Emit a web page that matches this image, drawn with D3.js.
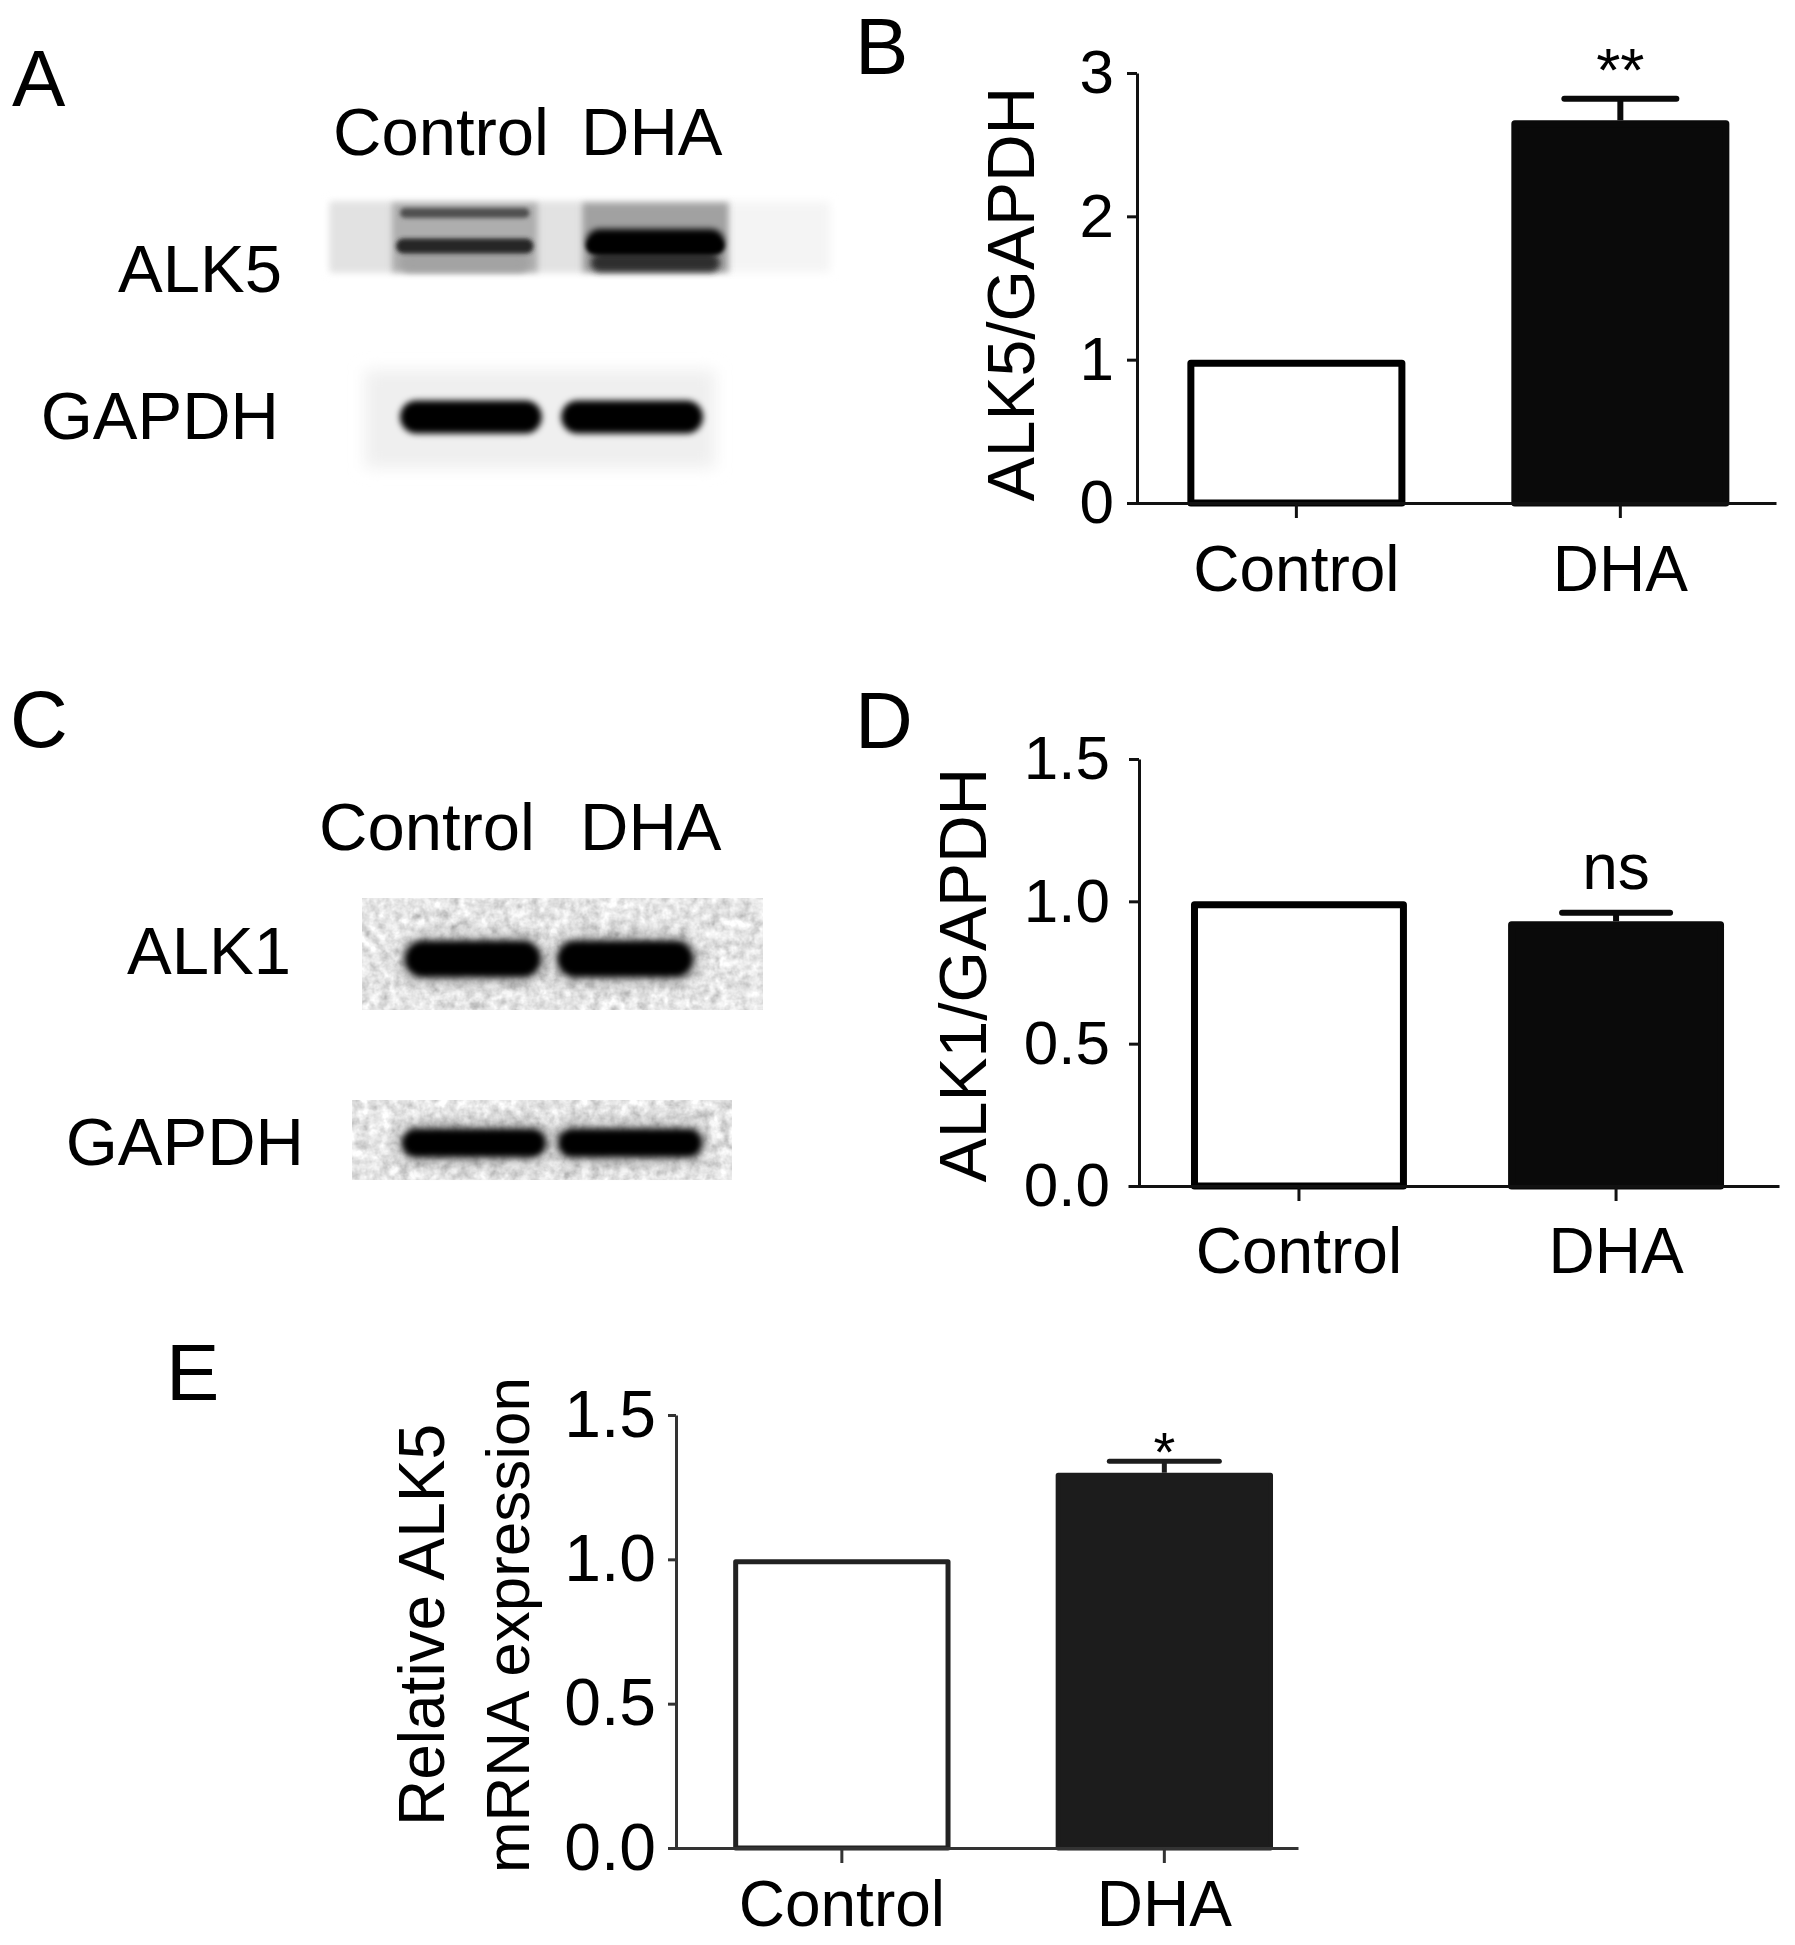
<!DOCTYPE html>
<html>
<head>
<meta charset="utf-8">
<script src="https://cdn.jsdelivr.net/npm/d3@7"></script>
<style>
body { margin: 0; background: #fff; }
text { font-family: "Liberation Sans", Arial, Helvetica, sans-serif; fill: #000; }
</style>
</head>
<body>
<div id="fig"></div>
<script>
var width = 1795;
var height = 1945;

// groups and measured values
var groups = ["Control", "DHA"];
var alk5Ratio = [1.0, 2.67];
var alk5RatioErr = [0, 0.15];
var alk1Ratio = [1.0, 0.93];
var alk1RatioErr = [0, 0.03];
var alk5Mrna = [1.0, 1.30];
var alk5MrnaErr = [0, 0.04];
var sigB = ["", "**"];
var sigD = ["", "ns"];
var sigE = ["", "*"];
var ticksB = [0, 1, 2, 3];
var ticksD = [0, 0.5, 1.0, 1.5];
var ticksE = [0, 0.5, 1.0, 1.5];

// blot band densities per lane (0 = none, 1 = saturated)
var alk5Upper = [0.65, 0];
var alk5Main = [0.85, 1.0];
var alk5Broad = [0, 1.0];
var alk5Smear = [0.25, 0.8];
var alk5LaneBg = [0.2, 0.26];
var gapdhA = [1.0, 1.0];
var alk1Band = [1.0, 1.0];
var gapdhC = [1.0, 1.0];

var svg = d3.select("#fig").append("svg")
    .attr("width", width)
    .attr("height", height);

var defs = svg.append("defs");
[2, 3, 5, 8].forEach(function(s) {
    defs.append("filter").attr("id", "blur" + s)
        .attr("x", "-50%").attr("y", "-150%").attr("width", "200%").attr("height", "400%")
        .append("feGaussianBlur").attr("stdDeviation", s);
});
var nf = defs.append("filter").attr("id", "noise")
    .attr("x", 0).attr("y", 0).attr("width", "100%").attr("height", "100%");
nf.append("feTurbulence").attr("type", "fractalNoise").attr("baseFrequency", 0.1)
    .attr("numOctaves", 3).attr("seed", 5).attr("result", "t");
nf.append("feColorMatrix").attr("in", "t").attr("type", "matrix")
    .attr("values", "0.33 0.33 0.33 0 0 0.33 0.33 0.33 0 0 0.33 0.33 0.33 0 0 0 0 0 0 1")
    .attr("result", "g");
var ct = nf.append("feComponentTransfer").attr("in", "g").attr("result", "c");
["feFuncR", "feFuncG", "feFuncB"].forEach(function(f) {
    ct.append(f).attr("type", "linear").attr("slope", 1.5).attr("intercept", 0.05);
});
nf.append("feComposite").attr("in", "c").attr("in2", "SourceGraphic").attr("operator", "in");

var density = d3.scaleLinear().domain([0, 1]).range(["#d8d8d8", "#050505"]);

// panel letters
var letters = [
    {t: "A", x: 12, y: 106, s: 80},
    {t: "B", x: 855, y: 74, s: 80},
    {t: "C", x: 10, y: 747, s: 80},
    {t: "D", x: 855, y: 748, s: 80},
    {t: "E", x: 166, y: 1400, s: 80}
];
svg.selectAll("text.letter").data(letters).join("text")
    .attr("class", "letter")
    .attr("x", d => d.x).attr("y", d => d.y)
    .attr("font-size", d => d.s)
    .text(d => d.t);

// ---------- western blots ----------
function drawBlot(cfg) {
    var g = svg.append("g");
    var x = d3.scaleBand().domain(groups).range(cfg.lanes).paddingInner(cfg.pad);

    // lane headers
    if (cfg.header) {
        g.selectAll("text.head").data(groups).join("text")
            .attr("class", "head")
            .attr("x", (d, i) => cfg.header.x[i])
            .attr("y", cfg.header.y)
            .attr("font-size", 67)
            .text(d => d);
    }
    // row labels
    g.selectAll("text.lab").data(cfg.labels).join("text")
        .attr("class", "lab")
        .attr("x", d => d.x).attr("y", d => d.y)
        .attr("text-anchor", "end")
        .attr("font-size", 67)
        .text(d => d.t);

    cfg.backs.forEach(function(b) {
        g.append("rect")
            .attr("x", b.x).attr("y", b.y).attr("width", b.w).attr("height", b.h)
            .attr("fill", b.fill)
            .attr("filter", b.filter);
    });

    if (cfg.laneBg) {
        g.selectAll("rect.lanebg").data(cfg.laneBg.values).join("rect")
            .attr("class", "lanebg")
            .attr("x", (d, i) => x(groups[i]))
            .attr("y", cfg.laneBg.y)
            .attr("width", x.bandwidth())
            .attr("height", cfg.laneBg.h)
            .attr("fill", d => density(d))
            .attr("filter", "url(#blur3)");
    }

    cfg.rows.forEach(function(r) {
        var vals = r.values.map((d, i) => ({d: d, g: groups[i]})).filter(v => v.d > 0);
        if (r.halo) {
            g.selectAll(null).data(vals).join("rect")
                .attr("x", v => x(v.g) - 4)
                .attr("y", r.cy - r.h / 2 - 6)
                .attr("width", x.bandwidth() + 8)
                .attr("height", r.h + 12)
                .attr("rx", r.h / 2)
                .attr("fill", "#7a7a7a")
                .attr("opacity", 0.6)
                .attr("filter", "url(#blur8)");
        }
        g.selectAll(null).data(vals).join("rect")
            .attr("x", v => x(v.g) + (r.inset || 0))
            .attr("y", r.cy - r.h / 2)
            .attr("width", x.bandwidth() - 2 * (r.inset || 0))
            .attr("height", r.h)
            .attr("rx", r.h / 2)
            .attr("fill", v => density(v.d))
            .attr("filter", "url(#blur" + r.blur + ")");
    });
}

// A: ALK5 + GAPDH
drawBlot({
    lanes: [392, 728], pad: 0.236,
    header: {x: [333, 581], y: 155},
    labels: [{t: "ALK5", x: 282, y: 292}],
    backs: [
        {x: 330, y: 202, w: 500, h: 70, fill: "#f4f4f4", filter: "url(#blur5)"},
        {x: 330, y: 202, w: 400, h: 70, fill: "#e2e2e2", filter: "url(#blur3)"}
    ],
    laneBg: {values: alk5LaneBg, y: 203, h: 69},
    rows: [
        {values: alk5Upper, cy: 213, h: 10, blur: 2, inset: 8},
        {values: alk5Smear, cy: 263, h: 18, blur: 3, inset: 8},
        {values: alk5Broad, cy: 242, h: 26, blur: 3, inset: 4},
        {values: alk5Main, cy: 246, h: 15, blur: 2, inset: 4}
    ]
});
drawBlot({
    lanes: [400, 703], pad: 0.12,
    labels: [{t: "GAPDH", x: 279, y: 439}],
    backs: [
        {x: 365, y: 370, w: 350, h: 98, fill: "#efefef", filter: "url(#blur8)"}
    ],
    rows: [
        {values: gapdhA, cy: 417, h: 33, blur: 3}
    ]
});

// C: ALK1 + GAPDH
drawBlot({
    lanes: [405, 693], pad: 0.11,
    header: {x: [319, 580], y: 850},
    labels: [{t: "ALK1", x: 291, y: 974}],
    backs: [
        {x: 362, y: 898, w: 401, h: 112, fill: "#ccc", filter: "url(#noise)"}
    ],
    rows: [
        {values: alk1Band, cy: 959, h: 36, blur: 3, halo: true}
    ]
});
drawBlot({
    lanes: [402, 702], pad: 0.08,
    labels: [{t: "GAPDH", x: 304, y: 1165}],
    backs: [
        {x: 352, y: 1100, w: 380, h: 80, fill: "#ccc", filter: "url(#noise)"}
    ],
    rows: [
        {values: gapdhC, cy: 1143, h: 28, blur: 3, halo: true}
    ]
});

// ---------- bar charts ----------
function barChart(cfg) {
    var g = svg.append("g");
    var x = d3.scaleBand().domain(groups)
        .range([cfg.x0, cfg.x1])
        .paddingInner(cfg.pi).paddingOuter(cfg.po).align(cfg.align);
    var y = d3.scaleLinear().domain([0, cfg.max]).range([cfg.yBottom, cfg.yTop]);
    var sw = cfg.sw;

    g.selectAll("rect.bar").data(cfg.values).join("rect")
        .attr("class", "bar")
        .attr("x", (d, i) => x(groups[i]) + sw / 2)
        .attr("y", d => y(d) + sw / 2)
        .attr("width", x.bandwidth() - sw)
        .attr("height", d => y(0) - y(d) - sw / 2)
        .attr("fill", (d, i) => i === 0 ? "#fff" : cfg.fill)
        .attr("stroke", (d, i) => i === 0 ? cfg.stroke : cfg.fill)
        .attr("stroke-width", sw)
        .attr("stroke-linejoin", "round");

    var errs = cfg.values.map((v, i) => ({v: v, e: cfg.errs[i], g: groups[i]}))
        .filter(d => d.e > 0);
    g.selectAll("line.stem").data(errs).join("line")
        .attr("x1", d => x(d.g) + x.bandwidth() / 2)
        .attr("x2", d => x(d.g) + x.bandwidth() / 2)
        .attr("y1", d => y(d.v))
        .attr("y2", d => y(d.v + d.e))
        .attr("stroke", cfg.fill).attr("stroke-width", cfg.ew);
    g.selectAll("line.cap").data(errs).join("line")
        .attr("x1", d => x(d.g) + x.bandwidth() / 2 - cfg.capW / 2)
        .attr("x2", d => x(d.g) + x.bandwidth() / 2 + cfg.capW / 2)
        .attr("y1", d => y(d.v + d.e))
        .attr("y2", d => y(d.v + d.e))
        .attr("stroke", cfg.fill).attr("stroke-width", cfg.ew)
        .attr("stroke-linecap", "round");

    // significance marks
    g.selectAll("text.sig").data(cfg.sig).join("text")
        .attr("class", "sig")
        .attr("x", (d, i) => x(groups[i]) + x.bandwidth() / 2)
        .attr("y", (d, i) => y(cfg.values[i] + cfg.errs[i]) - cfg.sigOff)
        .attr("text-anchor", "middle")
        .attr("font-size", cfg.sigSize)
        .text(d => d);

    var ya = d3.axisLeft(y).tickValues(cfg.ticks).tickFormat(cfg.fmt)
        .tickSize(cfg.yTick).tickSizeOuter(0).tickPadding(cfg.yPad);
    var yg = g.append("g").attr("transform", "translate(" + cfg.axisX + ",0)").call(ya);
    var xa = d3.axisBottom(x).tickSize(15).tickSizeOuter(0).tickPadding(cfg.xPad);
    var xg = g.append("g").attr("transform", "translate(0," + y(0) + ")").call(xa);

    [yg, xg].forEach(function(a) {
        a.attr("font-family", null).attr("font-size", null);
        a.select(".domain").attr("stroke", cfg.axis).attr("stroke-width", 3);
        a.selectAll(".tick line").attr("stroke", cfg.axis).attr("stroke-width", 3);
    });
    yg.selectAll(".tick text").attr("font-size", cfg.yFont).attr("fill", "#000");
    xg.selectAll(".tick text").attr("font-size", cfg.xFont).attr("fill", "#000");

    // y axis title (one or two lines)
    cfg.title.forEach(function(t) {
        g.append("text")
            .attr("transform", "translate(" + t.x + "," + cfg.titleY + ") rotate(-90)")
            .attr("text-anchor", "middle")
            .attr("font-size", t.s)
            .text(t.t);
    });
}

barChart({
    values: alk5Ratio, errs: alk5RatioErr, sig: sigB, ticks: ticksB,
    fmt: d3.format("d"), max: 3,
    x0: 1128, x1: 1776, pi: 0.327, po: 0.1636, align: 0.56,
    yBottom: 503, yTop: 73, axisX: 1137,
    sw: 7, ew: 6, capW: 112, fill: "#0a0a0a", stroke: "#000", axis: "#111",
    sigSize: 62, sigOff: 8,
    yTick: 10, yPad: 13, yFont: 62, xPad: 28, xFont: 64,
    titleY: 294, title: [{t: "ALK5/GAPDH", x: 1034, s: 66}]
});

barChart({
    values: alk1Ratio, errs: alk1RatioErr, sig: sigD, ticks: ticksD,
    fmt: d3.format(".1f"), max: 1.5,
    x0: 1128, x1: 1779, pi: 0.319, po: 0.186, align: 0.534,
    yBottom: 1186, yTop: 759, axisX: 1139,
    sw: 7, ew: 6, capW: 108, fill: "#0a0a0a", stroke: "#000", axis: "#111",
    sigSize: 64, sigOff: 24,
    yTick: 10, yPad: 19, yFont: 62, xPad: 27, xFont: 64,
    titleY: 975, title: [{t: "ALK1/GAPDH", x: 986, s: 66}]
});

barChart({
    values: alk5Mrna, errs: alk5MrnaErr, sig: sigE, ticks: ticksE,
    fmt: d3.format(".1f"), max: 1.5,
    x0: 672, x1: 1298, pi: 0.326, po: 0.1336, align: 0.71,
    yBottom: 1848, yTop: 1415, axisX: 676,
    sw: 5, ew: 5, capW: 110, fill: "#1c1c1c", stroke: "#222", axis: "#333",
    sigSize: 56, sigOff: -10,
    yTick: 8, yPad: 12, yFont: 66, xPad: 18, xFont: 64,
    titleY: 1625, title: [{t: "Relative ALK5", x: 444, s: 64}, {t: "mRNA expression", x: 529, s: 62}]
});
</script>
</body>
</html>
